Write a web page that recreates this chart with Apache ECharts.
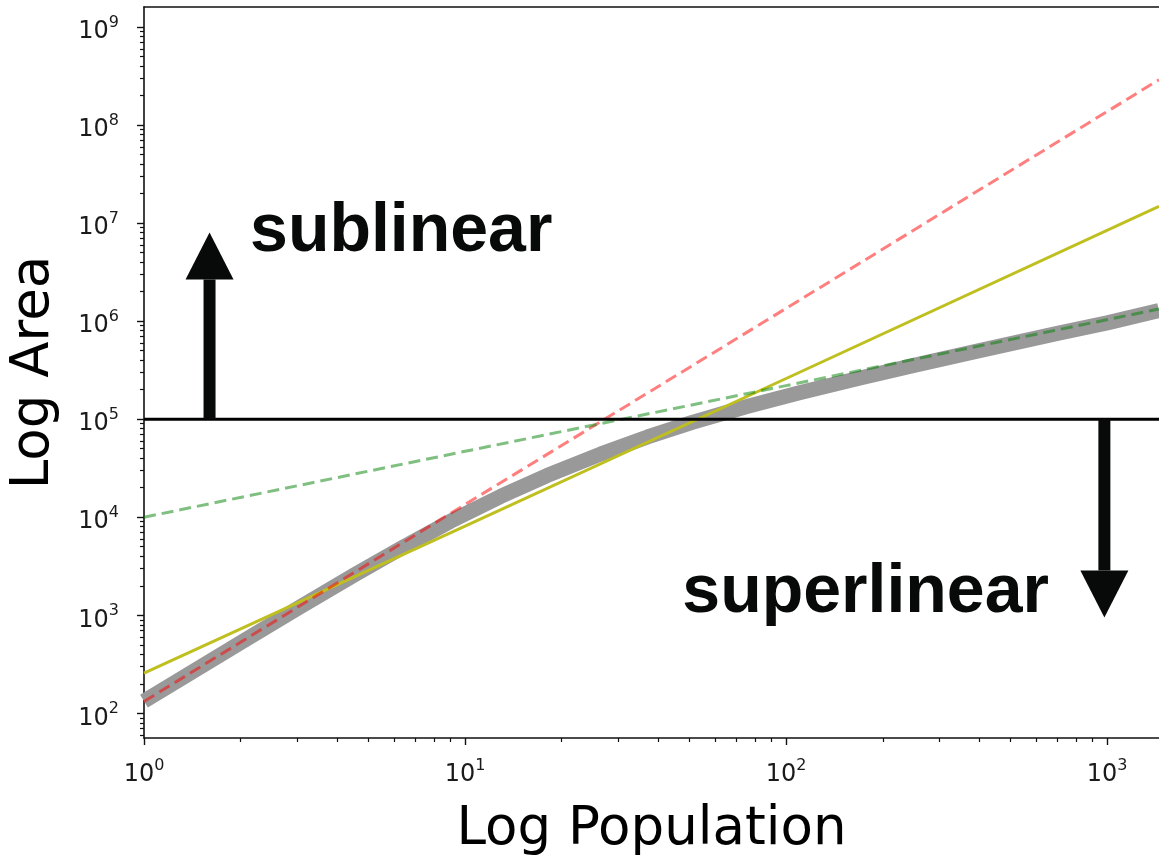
<!DOCTYPE html>
<html><head><meta charset="utf-8">
<script src="https://cdn.jsdelivr.net/npm/echarts@6/dist/echarts.min.js"></script>
<style>html,body{margin:0;padding:0;background:#fff}#c{width:1159px;height:856px}</style>
</head><body><div id="c"></div>
<script>
// ---- axis ranges and ticks ----
const xMin = 1, xMax = 1450;
const yMin = 56, yMax = 1.6e9;
const xMajorTicks = [1, 10, 100, 1000];
const yMajorTicks = [1e2, 1e3, 1e4, 1e5, 1e6, 1e7, 1e8, 1e9];
const mantissas = [2, 3, 4, 5, 6, 7, 8, 9];
const xMinorTicks = [1, 10, 100].flatMap(d => mantissas.map(m => m * d));
const yMinorTicks = [10, 1e2, 1e3, 1e4, 1e5, 1e6, 1e7, 1e8].flatMap(d => mantissas.map(m => m * d)).filter(v => v >= yMin && v <= yMax);

// ---- series data ----
const grayPop  = [1, 2, 3, 4.5, 6.3, 9, 12.9, 18, 26.4, 37, 51, 75, 110, 170, 250, 400, 700, 1000, 1450];
const grayArea = [133, 527, 1170, 2560, 4800, 9080, 16300, 26600, 44000, 65900, 92700, 133700, 186000, 263000, 354000, 500000, 750000, 960000, 1280000];
const redPop  = [1, 10, 100, 1450];
const redArea = [132, 13500, 1.35e6, 2.9e8];
const yellowPop  = [1, 10, 100, 1450];
const yellowArea = [257, 8100, 2.6e5, 1.48e7];
const greenPop  = [1, 10, 100, 1450];
const greenArea = [1e4, 4.7e4, 2.2e5, 1.33e6];
const thresholdPop  = [1, 1450];
const thresholdArea = [1e5, 1e5];

// ---- annotations ----
const arrowX    = [1.6, 980];
const arrowTipY = [8.0e6, 950];
const arrowBaseY = 1e5;
const annoText = ['sublinear', 'superlinear'];
const annoX = [2.14, 47.5];
const annoY = [8.0e6, 1680];

const pairs = (xs, ys) => xs.map((x, i) => [x, ys[i]]);

const tickFont = 'DejaVu Sans';
const labelRich = {
  b: { fontFamily: tickFont, fontSize: 24, color: '#1a1a1a', lineHeight: 29, verticalAlign: 'bottom' },
  s: { fontFamily: tickFont, fontSize: 16, color: '#1a1a1a', lineHeight: 14, padding: [0, 0, 20, 0], verticalAlign: 'top' }
};
const powFmt = v => '{b|10}{s|' + Math.round(Math.log10(v)) + '}';

const chart = echarts.init(document.getElementById('c'), null, { renderer: 'canvas' });
const axisLineStyle = { color: '#111', width: 1.6 };

const option = {
  backgroundColor: '#fff',
  animation: false,
  grid: { left: 144, right: 0, top: 7, bottom: 118, containLabel: false, outerBoundsMode: 'none' },
  xAxis: [
    {
      type: 'log', logBase: 10, min: xMin, max: xMax, position: 'bottom',
      axisLine: { show: true, onZero: false, lineStyle: axisLineStyle },
      axisTick: { show: true, inside: false, length: 7, lineStyle: { color: '#111', width: 1.4 }, customValues: xMajorTicks },
      axisLabel: { show: true, customValues: xMajorTicks, formatter: powFmt, margin: 15, padding: [5, 0, 0, 0], rich: labelRich },
      splitLine: { show: false }, minorTick: { show: false },
      name: 'Log Population', nameLocation: 'middle', nameGap: 66,
      nameTextStyle: { fontFamily: 'DejaVu Sans', fontSize: 53, color: '#000' }
    },
    {
      type: 'log', logBase: 10, min: xMin, max: xMax, position: 'bottom',
      axisLine: { show: false },
      axisTick: { show: true, inside: false, length: 4, lineStyle: { color: '#111', width: 1.2 }, customValues: xMinorTicks },
      axisLabel: { show: false }, splitLine: { show: false }
    },
    {
      type: 'log', logBase: 10, min: xMin, max: xMax, position: 'top',
      axisLine: { show: true, lineStyle: axisLineStyle },
      axisTick: { show: false }, axisLabel: { show: false }, splitLine: { show: false }
    }
  ],
  yAxis: [
    {
      type: 'log', logBase: 10, min: yMin, max: yMax, position: 'left',
      axisLine: { show: true, onZero: false, lineStyle: axisLineStyle },
      axisTick: { show: true, inside: false, length: 7, lineStyle: { color: '#111', width: 1.4 }, customValues: yMajorTicks },
      axisLabel: { show: true, customValues: yMajorTicks, formatter: powFmt, margin: 25, padding: [5, 0, 0, 0], rich: labelRich },
      splitLine: { show: false },
      name: 'Log Area', nameLocation: 'middle', nameGap: 83,
      nameTextStyle: { fontFamily: 'DejaVu Sans', fontSize: 53, color: '#000' }
    },
    {
      type: 'log', logBase: 10, min: yMin, max: yMax, position: 'left',
      axisLine: { show: false },
      axisTick: { show: true, inside: false, length: 4, lineStyle: { color: '#111', width: 1.2 }, customValues: yMinorTicks },
      axisLabel: { show: false }, splitLine: { show: false }
    }
  ],
  series: [
    { type: 'line', name: 'fit', data: pairs(grayPop, grayArea), symbol: 'none', smooth: false,
      lineStyle: { color: '#999999', width: 15, cap: 'butt', join: 'round' }, z: 2 },
    { type: 'line', name: 'beta 1.5', data: pairs(yellowPop, yellowArea), symbol: 'none',
      lineStyle: { color: '#bfbf1f', width: 3 }, z: 3 },
    { type: 'line', name: 'beta 2', data: pairs(redPop, redArea), symbol: 'none',
      lineStyle: { color: 'rgba(255,0,0,0.5)', width: 3, type: [12, 6] }, z: 4 },
    { type: 'line', name: 'beta 2/3', data: pairs(greenPop, greenArea), symbol: 'none',
      lineStyle: { color: 'rgba(0,128,0,0.5)', width: 3, type: [12, 6] }, z: 4 },
    { type: 'line', name: 'threshold', data: pairs(thresholdPop, thresholdArea), symbol: 'none',
      lineStyle: { color: '#000', width: 3 }, z: 5 },
    { type: 'custom', name: 'arrows', data: pairs(arrowX, arrowTipY), z: 6, clip: false,
      renderItem: function (params, api) {
        const x = api.value(0), tip = api.value(1);
        const p0 = api.coord([x, arrowBaseY]);
        const p1 = api.coord([x, tip]);
        const dir = p1[1] < p0[1] ? -1 : 1;
        const headLen = 47, headW = 48, shaftW = 12;
        const baseY = p1[1] - dir * headLen;
        return { type: 'group', children: [
          { type: 'rect', shape: { x: p0[0] - shaftW / 2, y: Math.min(p0[1], baseY), width: shaftW, height: Math.abs(baseY - p0[1]) },
            style: { fill: '#080a0a' } },
          { type: 'polygon', shape: { points: [[p1[0] - headW / 2, baseY], [p1[0] + headW / 2, baseY], [p1[0], p1[1]]] },
            style: { fill: '#080a0a' } }
        ] };
      }
    },
    { type: 'custom', name: 'labels', data: pairs(annoX, annoY), z: 7, clip: false,
      renderItem: function (params, api) {
        const p = api.coord([api.value(0), api.value(1)]);
        return { type: 'text', x: p[0], y: p[1], style: {
          text: annoText[params.dataIndex], fontFamily: 'Liberation Sans', fontWeight: 'bold', fontSize: 68,
          fill: '#080a0a', align: 'left', verticalAlign: 'middle' } };
      }
    }
  ]
};
chart.setOption(option);
</script>
</body></html>
